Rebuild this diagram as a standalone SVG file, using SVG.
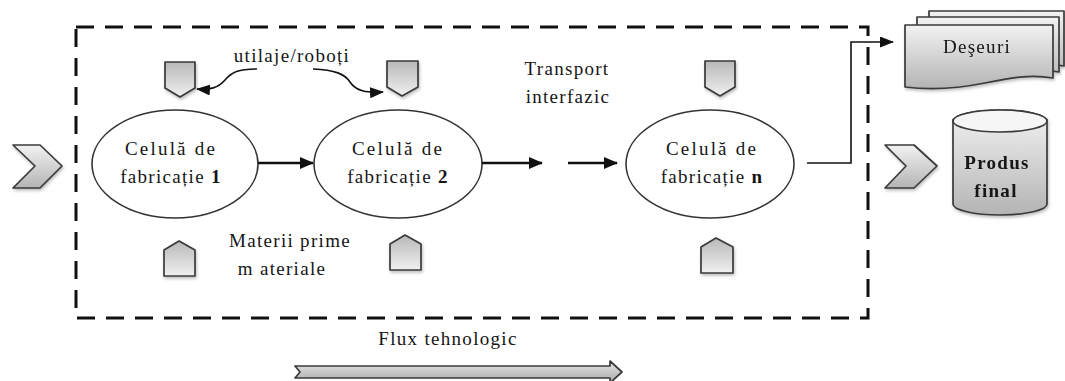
<svg xmlns="http://www.w3.org/2000/svg" width="1065" height="381" viewBox="0 0 1065 381">
  <style>
    .txt { font-family: "Liberation Serif", "Times New Roman", serif; font-size: 19px; fill: #151515; text-anchor: middle; letter-spacing: 1.3px; }
    .wide { letter-spacing: 2.2px; }
    .bold { font-weight: bold; }
    .cell { fill: #fff; stroke: #333; stroke-width: 1.6; }
    .shape { stroke: #3a3a3a; stroke-width: 1.7; stroke-linejoin: round; }
    .flow { fill: none; stroke: #111; stroke-width: 2.5; }
    .thin { fill: none; stroke: #111; stroke-width: 1.6; }
    .curve { fill: none; stroke: #111; stroke-width: 1.6; }
    .boundary { fill: none; stroke: #111; stroke-width: 3; stroke-dasharray: 18 11; }
  </style>
  <defs>
    <linearGradient id="gLight" x1="0" y1="0" x2="0" y2="1">
      <stop offset="0" stop-color="#f2f2f2"/>
      <stop offset="1" stop-color="#b4b4b4"/>
    </linearGradient>
    <linearGradient id="gTab" x1="0" y1="0" x2="0" y2="1">
      <stop offset="0" stop-color="#b8b8b8"/>
      <stop offset="1" stop-color="#f0f0f0"/>
    </linearGradient>
    <linearGradient id="gBar" x1="0" y1="0" x2="0" y2="1">
      <stop offset="0" stop-color="#e8e8e8"/>
      <stop offset="1" stop-color="#a8a8a8"/>
    </linearGradient>
    <filter id="soft" x="-20%" y="-20%" width="140%" height="140%">
      <feDropShadow dx="1" dy="2" stdDeviation="1.5" flood-color="#000" flood-opacity="0.25"/>
    </filter>
    <marker id="head" markerUnits="userSpaceOnUse" markerWidth="14" markerHeight="12" refX="13" refY="6" orient="auto">
      <path d="M0,0 L14,6 L0,12 Z" fill="#111"/>
    </marker>
    <marker id="headS" markerUnits="userSpaceOnUse" markerWidth="14" markerHeight="11" refX="13" refY="5.5" orient="auto">
      <path d="M0,0 L14,5.5 L0,11 Z" fill="#111"/>
    </marker>
  </defs>

  <!-- system boundary -->
  <rect id="boundary" class="boundary" x="76" y="27" width="792" height="291"/>

  <!-- input chevron -->
  <g id="input">
    <polygon class="shape" fill="url(#gLight)" filter="url(#soft)" points="13,145 40,145 62,166 40,188 13,188 35,166"/>
  </g>

  <!-- manufacturing cells -->
  <g id="cell1">
    <ellipse class="cell" cx="175" cy="164" rx="83" ry="54"/>
    <text class="txt wide" x="171" y="155">Celulă de</text>
    <text class="txt" x="171" y="183">fabricație <tspan class="bold">1</tspan></text>
  </g>
  <g id="cell2">
    <ellipse class="cell" cx="398" cy="164" rx="84" ry="54"/>
    <text class="txt wide" x="398" y="155">Celulă de</text>
    <text class="txt" x="398" y="183">fabricație <tspan class="bold">2</tspan></text>
  </g>
  <g id="celln">
    <ellipse class="cell" cx="710" cy="164" rx="84" ry="54"/>
    <text class="txt wide" x="712" y="155">Celulă de</text>
    <text class="txt" x="712" y="183">fabricație <tspan class="bold">n</tspan></text>
  </g>

  <!-- equipment / robots (top tabs) -->
  <g id="equip1">
    <path class="shape" fill="url(#gTab)" filter="url(#soft)" d="M165,62 H195 V88 L180,97 L165,88 Z"/>
  </g>
  <g id="equip2">
    <path class="shape" fill="url(#gTab)" filter="url(#soft)" d="M387,61 H418 V87 L402,96 L387,87 Z"/>
  </g>
  <g id="equipn">
    <path class="shape" fill="url(#gTab)" filter="url(#soft)" d="M705,61 H735 V87 L720,96 L705,87 Z"/>
  </g>

  <!-- raw materials (bottom tabs) -->
  <g id="mat1">
    <path class="shape" fill="url(#gTab)" filter="url(#soft)" d="M164,250 L179,241 L195,250 V276 H164 Z"/>
  </g>
  <g id="mat2">
    <path class="shape" fill="url(#gTab)" filter="url(#soft)" d="M390,244 L405,235 L421,244 V270 H390 Z"/>
  </g>
  <g id="matn">
    <path class="shape" fill="url(#gTab)" filter="url(#soft)" d="M701,247 L716,238 L733,247 V273 H701 Z"/>
  </g>

  <!-- labels -->
  <g id="labels">
    <text class="txt" x="292" y="62">utilaje/roboți</text>
    <text class="txt" x="567" y="75">Transport</text>
    <text class="txt" x="568" y="103">interfazic</text>
    <text class="txt" x="290" y="247">Materii prime</text>
    <text class="txt" x="282" y="275">m ateriale</text>
  </g>

  <!-- waste (multi-document) -->
  <g id="waste" filter="url(#soft)">
    <path class="shape" fill="url(#gLight)" d="M929,11 H1064 V66 C1040,62 1020,68 1000,72 C980,76 955,77 929,74 Z"/>
    <path class="shape" fill="url(#gLight)" d="M917,17 H1059 V72 C1035,68 1015,74 995,78 C975,82 945,83 917,80 Z"/>
    <path class="shape" fill="url(#gLight)" d="M905,25 H1053 V78 C1030,74 1010,78 985,83 C960,88 930,90 905,87 Z"/>
    <text class="txt" x="977" y="53">Deşeuri</text>
  </g>

  <!-- output chevron -->
  <g id="output">
    <polygon class="shape" fill="url(#gLight)" filter="url(#soft)" points="885,145 914,145 937,166 914,188 885,188 906,166"/>
  </g>

  <!-- final product (cylinder) -->
  <g id="product" filter="url(#soft)">
    <path class="shape" fill="url(#gLight)" d="M953,121 V204 A47,11 0 0 0 1047,204 V121 A47,11 0 0 0 953,121 Z"/>
    <ellipse class="shape" fill="#f6f6f6" cx="1000" cy="121" rx="47" ry="11"/>
    <text class="txt bold" x="997" y="169">Produs</text>
    <text class="txt bold" x="996" y="197">final</text>
  </g>

  <!-- connectors -->
  <g id="connectors">
    <line class="flow" x1="258" y1="163" x2="313" y2="163" marker-end="url(#head)"/>
    <line class="flow" x1="482" y1="163" x2="542" y2="163" marker-end="url(#head)"/>
    <line class="flow" x1="568" y1="163" x2="617" y2="163" marker-end="url(#head)"/>
    <polyline class="thin" points="807,163 851,163 851,42 893,42" marker-end="url(#headS)"/>
    <path class="curve" d="M257,69 C238,69 232,72 225,80 C218,88 210,90 197,89" marker-end="url(#headS)"/>
    <path class="curve" d="M313,69 C335,70 345,74 350,82 C356,91 366,93 383,92" marker-end="url(#headS)"/>
  </g>

  <!-- process flow -->
  <g id="flux">
    <text class="txt" x="448" y="345">Flux  tehnologic</text>
    <polygon class="shape" fill="url(#gBar)" points="295,366 610,366 610,361 622,372 610,383 610,378 295,378 300,372"/>
  </g>
</svg>
